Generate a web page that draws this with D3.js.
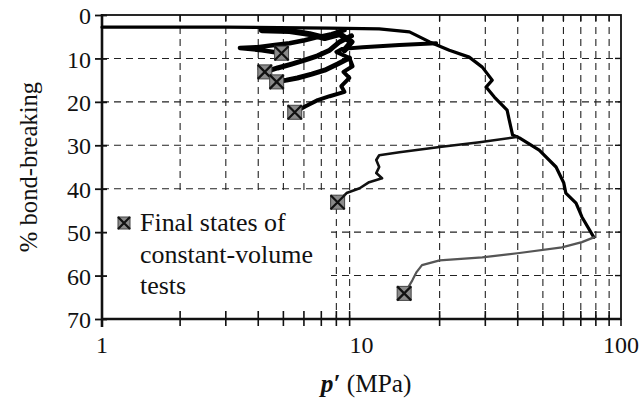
<!DOCTYPE html>
<html>
<head>
<meta charset="utf-8">
<script src="https://cdn.jsdelivr.net/npm/d3@7"></script>
<style>
  body { margin: 0; background: #fff; }
  text { font-family: 'Liberation Serif', 'DejaVu Serif', 'Noto Serif', Tinos, serif; }
</style>
</head>
<body>
<div id="chart"></div>
<script>
// values: [p' (MPa), % bond-breaking]
const envelope = [[1, 2.8], [3, 2.8], [7.5, 3.0], [11.7, 3.2], [15.3, 3.9], [18.3, 6.2], [21.8, 8.1],
  [26.0, 9.7], [29.2, 12.0], [31.9, 15.0], [30.2, 16.6], [32.5, 18.9], [36.4, 21.9], [37.1, 24.2],
  [38.2, 27.6], [40.6, 28.3], [48.4, 31.1], [56.2, 35.0], [60.2, 38.7], [61.3, 41.0], [67.1, 43.3],
  [70.7, 46.5], [78.6, 51.2]];
const branchUpper = [[19.4, 6.5], [14.0, 6.9], [10.1, 7.4], [8.44, 7.8], [8.0, 8.5], [8.98, 9.9],
  [9.24, 11.8], [8.52, 13.1], [8.98, 14.5], [8.36, 16.4], [8.6, 17.7], [7.54, 18.7], [6.78, 19.6],
  [6.09, 21.0], [5.53, 22.4]];
const branchA = [[8.6, 3.5], [7.67, 4.4], [6.77, 5.1], [6.04, 5.8], [5.28, 6.5], [4.63, 6.9],
  [3.98, 7.4], [3.4, 7.6], [4.13, 8.1], [4.92, 8.8]];
const branchB = [[9.15, 4.8], [8.23, 6.2], [7.54, 8.1], [6.77, 9.4], [6.04, 10.4], [5.38, 11.3],
  [4.75, 12.2], [4.24, 13.1]];
const branchC = [[8.98, 9.9], [8.09, 11.3], [7.21, 12.7], [6.43, 13.6], [5.66, 14.5], [5.14, 15.0],
  [4.71, 15.4]];
const blob = [[4.13, 3.5], [5.28, 3.7], [6.31, 4.4], [7.21, 5.3], [8.23, 4.4], [9.15, 6.2], [8.6, 8.1]];
const branchMid = [[39.6, 28.1], [28.5, 29.3], [20.0, 30.4], [14.0, 31.6], [11.7, 32.3], [11.4, 33.4],
  [11.7, 35.0], [11.4, 36.4], [12.0, 37.6], [10.7, 38.5], [9.84, 39.9], [8.76, 41.0], [8.09, 43.1]];
const branchLow = [[78.6, 51.2], [70.7, 52.3], [59.2, 53.5], [40.6, 54.8], [29.2, 55.8], [20.0, 56.5],
  [17.1, 57.6], [16.3, 59.2], [15.7, 61.1], [14.9, 63.4], [14.6, 64.1]];
const finalStates = [[4.92, 8.8], [4.24, 13.1], [4.71, 15.4], [5.53, 22.4], [8.09, 43.1], [14.6, 64.1]];

const yTicks = [0, 10, 20, 30, 40, 50, 60, 70];
const yGrid = [10, 20, 30, 40, 50, 60];
const xLabels = [1, 10, 100];
const xMinor = [2, 3, 4, 5, 6, 7, 8, 9, 20, 30, 40, 50, 60, 70, 80, 90];
const legendLines = ['Final states of', 'constant-volume', 'tests'];

const W = 643, H = 406;
const m = { left: 102, right: 22, top: 15, bottom: 87 };

const svg = d3.select('#chart').append('svg').attr('width', W).attr('height', H);

const x = d3.scaleLog().domain([1, 100]).range([m.left, W - m.right]);
const y = d3.scaleLinear().domain([0, 70]).range([m.top, H - m.bottom]);

// dashed grid
const grid = svg.append('g').attr('stroke', '#222').attr('stroke-width', 1.1).attr('stroke-dasharray', '7,5');
grid.selectAll('.vg').data(xMinor).join('line')
  .attr('x1', d => x(d)).attr('x2', d => x(d)).attr('y1', y(0)).attr('y2', y(70));
grid.selectAll('.hg').data(yGrid).join('line')
  .attr('x1', x(1)).attr('x2', x(100)).attr('y1', d => y(d)).attr('y2', d => y(d));

// legend box hides grid behind it
svg.append('rect').attr('x', x(1) + 1).attr('y', 190).attr('width', 228).attr('height', y(70) - 191)
  .attr('fill', '#fff');

// frame
svg.append('rect').attr('x', x(1)).attr('y', y(0)).attr('width', x(100) - x(1)).attr('height', y(70) - y(0))
  .attr('fill', 'none').attr('stroke', '#111').attr('stroke-width', 1.8);
svg.append('line').attr('x1', x(1)).attr('x2', x(1)).attr('y1', y(0) - 1).attr('y2', y(70) + 8)
  .attr('stroke', '#111').attr('stroke-width', 2.6);
svg.append('line').attr('x1', x(1)).attr('x2', x(100)).attr('y1', y(70)).attr('y2', y(70))
  .attr('stroke', '#111').attr('stroke-width', 2.4);

// y axis
const yAxis = svg.append('g').attr('transform', `translate(${x(1)},0)`)
  .call(d3.axisLeft(y).tickValues(yTicks).tickSize(7).tickPadding(4));
yAxis.attr('font-family', null).attr('font-size', null);
yAxis.select('.domain').remove();
yAxis.selectAll('line').attr('x2', 5).attr('x1', -7).attr('stroke', '#111').attr('stroke-width', 1.8);
yAxis.selectAll('text').style('font-size', '24px').attr('fill', '#111').attr('dy', '0.36em');

// x ticks
const xt = svg.append('g');
xt.selectAll('.bt').data(xMinor).join('line')
  .attr('x1', d => x(d)).attr('x2', d => x(d)).attr('y1', y(70) - 8).attr('y2', y(70) + 7)
  .attr('stroke', '#111').attr('stroke-width', 1.6);
xt.selectAll('.tt').data(xMinor).join('line')
  .attr('x1', d => x(d)).attr('x2', d => x(d)).attr('y1', y(0)).attr('y2', y(0) + 6)
  .attr('stroke', '#111').attr('stroke-width', 1.4);
xt.selectAll('.rt').data(yGrid).join('line')
  .attr('x1', x(100) - 6).attr('x2', x(100)).attr('y1', d => y(d)).attr('y2', d => y(d))
  .attr('stroke', '#111').attr('stroke-width', 1.4);
svg.append('line').attr('x1', x(100)).attr('x2', x(100)).attr('y1', y(70)).attr('y2', y(70) + 7)
  .attr('stroke', '#111').attr('stroke-width', 1.6);
svg.selectAll('.xl').data(xLabels).join('text')
  .attr('x', d => x(d)).attr('y', 353).attr('text-anchor', 'middle')
  .style('font-size', '24px').attr('fill', '#111').text(d => d);

// axis titles
const xTitle = svg.append('text').attr('transform', 'translate(366,392) scale(1.15)').attr('text-anchor', 'middle')
  .style('font-size', '22px').attr('fill', '#111');
xTitle.append('tspan').style('font-style', 'italic').style('font-weight', 'bold').text('p′');
xTitle.append('tspan').text(' (MPa)');
svg.append('text').attr('transform', 'translate(37,167) rotate(-90) scale(1.12)').attr('text-anchor', 'middle')
  .style('font-size', '22px').attr('fill', '#111').text('% bond-breaking');

// curves
const line = d3.line().x(d => x(d[0])).y(d => y(d[1]));
const curves = [
  { data: blob, w: 6, c: '#000' },
  { data: branchA, w: 4.5, c: '#000' },
  { data: branchB, w: 5, c: '#000' },
  { data: branchC, w: 5, c: '#000' },
  { data: branchUpper, w: 4, c: '#000' },
  { data: envelope, w: 3.2, c: '#000' },
  { data: branchMid, w: 2.6, c: '#111' },
  { data: branchLow, w: 2.2, c: '#555' }
];
svg.append('g').selectAll('path').data(curves).join('path')
  .attr('d', d => line(d.data)).attr('fill', 'none')
  .attr('stroke', d => d.c).attr('stroke-width', d => d.w)
  .attr('stroke-linejoin', 'round').attr('stroke-linecap', 'round');

// final-state markers
function marker(g, s) {
  g.append('rect').attr('x', -s / 2).attr('y', -s / 2).attr('width', s).attr('height', s)
    .attr('fill', '#8a8a8a').attr('stroke', '#444').attr('stroke-width', 1);
  g.append('path').attr('d', `M${-s / 2},${-s / 2}L${s / 2},${s / 2}M${s / 2},${-s / 2}L${-s / 2},${s / 2}`)
    .attr('stroke', '#111').attr('stroke-width', 2.2);
}
svg.append('g').selectAll('g').data(finalStates).join('g')
  .attr('transform', d => `translate(${x(d[0])},${y(d[1])})`)
  .each(function () { marker(d3.select(this), 14); });

// legend
const lg = svg.append('g').attr('transform', 'translate(124,223)');
marker(lg, 12);
svg.selectAll('.lt').data(legendLines).join('text')
  .attr('transform', (d, i) => `translate(140,${231 + i * 31.5}) scale(1.18)`)
  .style('font-size', '22px').attr('fill', '#111').text(d => d);
</script>
</body>
</html>
